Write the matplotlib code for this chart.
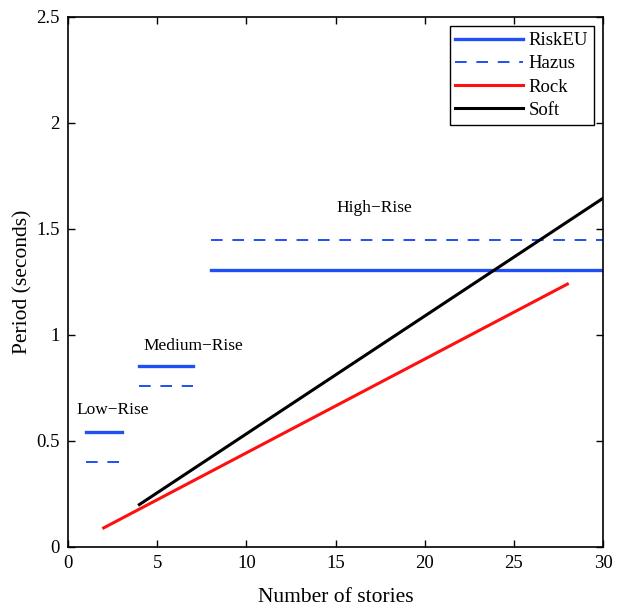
import matplotlib
matplotlib.use('Agg')
from matplotlib import pyplot as plt

plt.rcParams['font.family'] = ['Liberation Serif', 'DejaVu Serif']

# building period classes (stories range, period)
low_x = [1, 3]
medium_x = [4, 7]
high_x = [8, 30]
riskeu = [0.54, 0.855, 1.305]
hazus = [0.40, 0.76, 1.45]

# code formulas
rock_x = [2, 28]
rock_y = [0.09, 1.24]
soft_x = [4, 30]
soft_y = [0.20, 1.645]

blue = '#1f4ff5'
fig = plt.figure(figsize=(6.2, 6.07), dpi=100)
ax = fig.add_axes([0.1097, 0.0989, 0.8629, 0.8731])

for i, xs in enumerate([low_x, medium_x, high_x]):
    ax.plot(xs, [riskeu[i]] * 2, color=blue, lw=2.4, label='RiskEU' if i == 0 else None)
    ax.plot(xs, [hazus[i]] * 2, color=blue, lw=1.4, ls=(0, (6, 5)), label='Hazus' if i == 0 else None)
ax.plot(rock_x, rock_y, color='#ff1010', lw=2.2, label='Rock')
ax.plot(soft_x, soft_y, color='black', lw=2.2, label='Soft')

ax.text(2.5, 0.61, 'Low\u2212Rise', ha='center', va='bottom', fontsize=12.5)
ax.text(7, 0.91, 'Medium\u2212Rise', ha='center', va='bottom', fontsize=12.5)
ax.text(17.2, 1.56, 'High\u2212Rise', ha='center', va='bottom', fontsize=12.5)

ax.set_xlim(0, 30)
ax.set_ylim(0, 2.5)
ax.set_xticks([0, 5, 10, 15, 20, 25, 30])
ax.set_yticks([0, 0.5, 1, 1.5, 2, 2.5])
ax.set_yticklabels(['0', '0.5', '1', '1.5', '2', '2.5'])
ax.tick_params(direction='in', top=True, right=True, labelsize=13.5, length=5, width=1.0, pad=6)
for s in ax.spines.values():
    s.set_linewidth(1.2)
ax.set_xlabel('Number of stories', fontsize=15.5, labelpad=11)
ax.set_ylabel('Period (seconds)', fontsize=15.5, labelpad=3)

leg = ax.legend(loc='upper right', fontsize=13.5, fancybox=False, framealpha=1,
                edgecolor='black', handlelength=3.6, borderpad=0.3, labelspacing=0.33,
                handletextpad=0.3, borderaxespad=0.5)
leg.get_frame().set_linewidth(1.0)

fig.savefig('out.png', dpi=100)
